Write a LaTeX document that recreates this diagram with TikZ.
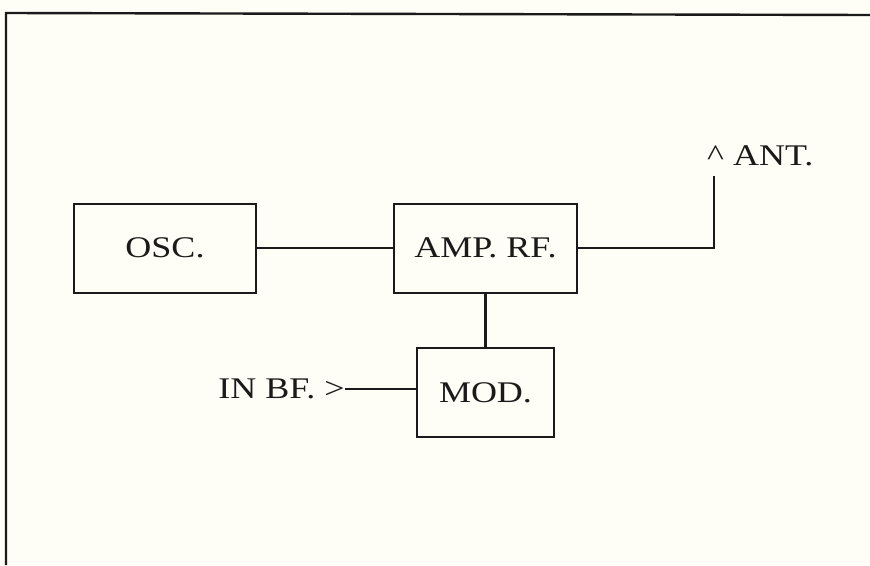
\documentclass[tikz,border=0pt]{standalone}
\usepackage{fontspec}
\setmainfont{Liberation Serif}[FakeStretch=1.2]
\definecolor{paper}{HTML}{FEFDF6}
\definecolor{ink}{HTML}{1A1A1A}
\begin{document}
\begin{tikzpicture}[x=1pt,y=-1pt,
  blockbox/.style={draw=ink, line width=2pt, minimum width=#1, minimum height=89pt, inner sep=0pt, font=\fontsize{30}{34}\selectfont, text=ink},
  wire/.style={draw=ink, line width=2.2pt},
  lbl/.style={inner sep=0pt, font=\fontsize{30}{34}\selectfont, text=ink}]
\fill[paper] (0,0) rectangle (870,565);
\useasboundingbox (0,0) rectangle (870,565);
% frame (top and left only)
\draw[ink, line width=2.4pt] (6,565) -- (6,13) -- (870,15);
% blocks
\node[blockbox=182pt] (osc) at (165,248) {OSC.};
\node[blockbox=183pt] (amp) at (485.5,248) {AMP. RF.};
\node[blockbox=137pt] (mod) at (485.5,392.5) {MOD.};
% labels
\node[lbl, anchor=base west] (ant) at (707,165) {\^{} ANT.};
\node[lbl, anchor=east] (inbf) at (345,389) {IN BF. >};
\coordinate (antend) at (714,176);
% connectors
\draw[wire] (osc.east) -- (amp.west);
\draw[wire] (amp.south) -- (mod.north);
\draw[wire] (amp.east) -| (antend);
\draw[wire] (inbf.east) -- (inbf.east -| mod.west);
\end{tikzpicture}
\end{document}
